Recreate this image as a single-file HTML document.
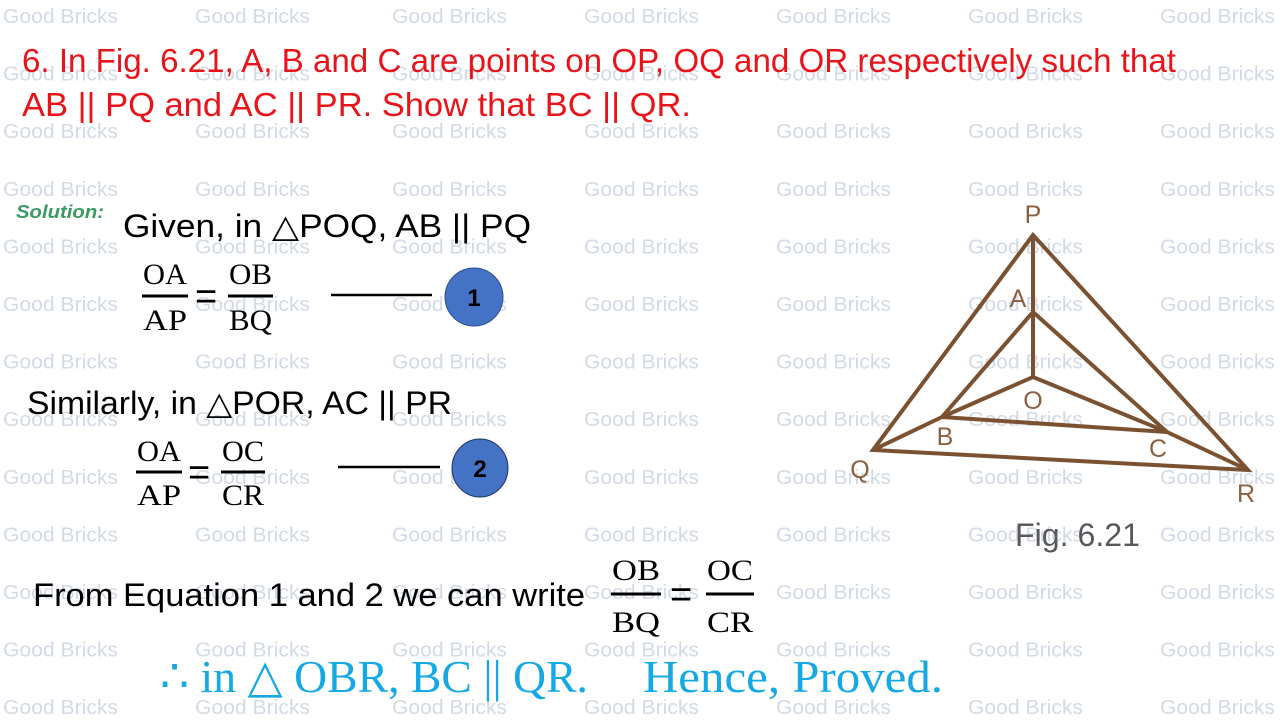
<!DOCTYPE html>
<html><head><meta charset="utf-8"><style>
html,body{margin:0;padding:0;background:#fff;width:1280px;height:720px;overflow:hidden}
svg{display:block}
.wm{font-family:"Liberation Sans",sans-serif;font-size:20px;fill:#d3dae5}
.s{font-family:"Liberation Sans","DejaVu Sans",sans-serif}
.f{font-family:"Liberation Serif","DejaVu Serif",serif;font-size:30px;fill:#000}
.eq{font-family:"Liberation Sans",sans-serif;font-size:38px;fill:#000}
.lb{font-family:"Liberation Sans",sans-serif;font-size:25px;fill:#8a6040}
</style></head><body>
<svg width="1280" height="720" viewBox="0 0 1280 720" xmlns="http://www.w3.org/2000/svg">
<g id="grid" class="wm"></g>

<!-- title -->
<text class="s" x="22" y="72" font-size="33" fill="#e8141a" textLength="1154" lengthAdjust="spacingAndGlyphs">6. In Fig. 6.21, A, B and C are points on OP, OQ and OR respectively such that</text>
<text class="s" x="22" y="116" font-size="33" fill="#e8141a" textLength="669" lengthAdjust="spacingAndGlyphs">AB || PQ and AC || PR. Show that BC || QR.</text>

<text class="s" x="16" y="218" font-size="18" font-style="italic" font-weight="bold" fill="#3a9a62" textLength="88" lengthAdjust="spacingAndGlyphs">Solution:</text>
<text class="s" x="123" y="237" font-size="32" fill="#000" textLength="408" lengthAdjust="spacingAndGlyphs">Given,  in △POQ, AB || PQ</text>

<!-- fraction 1 -->
<text class="f" x="143" y="284" textLength="44" lengthAdjust="spacingAndGlyphs">OA</text>
<line x1="142" y1="296" x2="188" y2="296" stroke="#000" stroke-width="3"/>
<text class="f" x="143" y="330" textLength="44" lengthAdjust="spacingAndGlyphs">AP</text>
<text class="eq" x="195" y="309">=</text>
<text class="f" x="229" y="284" textLength="43" lengthAdjust="spacingAndGlyphs">OB</text>
<line x1="228" y1="296" x2="273" y2="296" stroke="#000" stroke-width="3"/>
<text class="f" x="229" y="330" textLength="43" lengthAdjust="spacingAndGlyphs">BQ</text>
<line x1="331" y1="295" x2="432" y2="295" stroke="#000" stroke-width="2.5"/>
<circle cx="474" cy="297" r="29" fill="#4472c4" stroke="#2f528f" stroke-width="1"/>
<text class="s" x="474" y="306" font-size="24" font-weight="bold" text-anchor="middle" fill="#000">1</text>

<text class="s" x="27" y="414" font-size="32" fill="#000" textLength="425" lengthAdjust="spacingAndGlyphs">Similarly, in △POR, AC || PR</text>

<!-- fraction 2 -->
<text class="f" x="137" y="461" textLength="44" lengthAdjust="spacingAndGlyphs">OA</text>
<line x1="136" y1="472" x2="182" y2="472" stroke="#000" stroke-width="3"/>
<text class="f" x="137" y="505" textLength="44" lengthAdjust="spacingAndGlyphs">AP</text>
<text class="eq" x="188" y="485">=</text>
<text class="f" x="222" y="461" textLength="42" lengthAdjust="spacingAndGlyphs">OC</text>
<line x1="221" y1="472" x2="265" y2="472" stroke="#000" stroke-width="3"/>
<text class="f" x="222" y="505" textLength="42" lengthAdjust="spacingAndGlyphs">CR</text>
<line x1="338" y1="467" x2="440" y2="467" stroke="#000" stroke-width="2.5"/>
<ellipse cx="480" cy="468" rx="28" ry="29" fill="#4472c4" stroke="#1f3864" stroke-width="1"/>
<text class="s" x="480" y="477" font-size="24" font-weight="bold" text-anchor="middle" fill="#000">2</text>

<text class="s" x="33" y="606" font-size="32" fill="#000" textLength="552" lengthAdjust="spacingAndGlyphs">From Equation 1 and  2 we can write</text>

<!-- fraction 3 -->
<text class="f" x="612" y="580" font-size="33" textLength="48" lengthAdjust="spacingAndGlyphs">OB</text>
<line x1="611" y1="594" x2="661" y2="594" stroke="#000" stroke-width="3"/>
<text class="f" x="612" y="632" font-size="33" textLength="48" lengthAdjust="spacingAndGlyphs">BQ</text>
<text class="eq" x="670" y="607" font-size="42">=</text>
<text class="f" x="707" y="580" font-size="33" textLength="46" lengthAdjust="spacingAndGlyphs">OC</text>
<line x1="706" y1="594" x2="754" y2="594" stroke="#000" stroke-width="3"/>
<text class="f" x="707" y="632" font-size="33" textLength="46" lengthAdjust="spacingAndGlyphs">CR</text>

<text x="160" y="692" font-family="'Liberation Serif','DejaVu Serif',serif" font-size="46" fill="#14a8e4" textLength="428" lengthAdjust="spacingAndGlyphs">∴ in △ OBR, BC || QR.</text>
<text x="643" y="692" font-family="'Liberation Serif','DejaVu Serif',serif" font-size="46" fill="#14a8e4" textLength="300" lengthAdjust="spacingAndGlyphs">Hence, Proved.</text>

<!-- figure -->
<g stroke="#7a5232" stroke-width="4" fill="none" stroke-linejoin="miter">
<polygon points="1033,235 873,450 1248,470"/>
<line x1="1033" y1="235" x2="1033" y2="377"/>
<polyline points="942,417 1033,312 1167,432"/>
<polyline points="942,417 1033,377 1167,432"/>
<line x1="942" y1="417" x2="1167" y2="432"/>
<line x1="873" y1="450" x2="942" y2="417"/>
<line x1="1167" y1="432" x2="1248" y2="470"/>
</g>
<g class="lb" text-anchor="middle">
<text x="1033" y="223">P</text>
<text x="1018" y="307">A</text>
<text x="1033" y="409">O</text>
<text x="945" y="445">B</text>
<text x="1158" y="457">C</text>
<text x="860" y="478">Q</text>
<text x="1246" y="502">R</text>
</g>
<text class="s" x="1015" y="546" font-size="32" fill="#595959" textLength="125" lengthAdjust="spacingAndGlyphs">Fig. 6.21</text>
</svg>
<script>
(function(){
var g=document.getElementById('grid');var ns='http://www.w3.org/2000/svg';
var xs=[3,195,392,584,776,968,1160];
for(var r=0;r<13;r++){var y=23+r*57.6;for(var i=0;i<xs.length;i++){
var t=document.createElementNS(ns,'text');t.setAttribute('x',xs[i]);t.setAttribute('y',y);
t.setAttribute('textLength','115');t.setAttribute('lengthAdjust','spacingAndGlyphs');
t.textContent='Good Bricks';g.appendChild(t);}}
})();
</script>
</body></html>
